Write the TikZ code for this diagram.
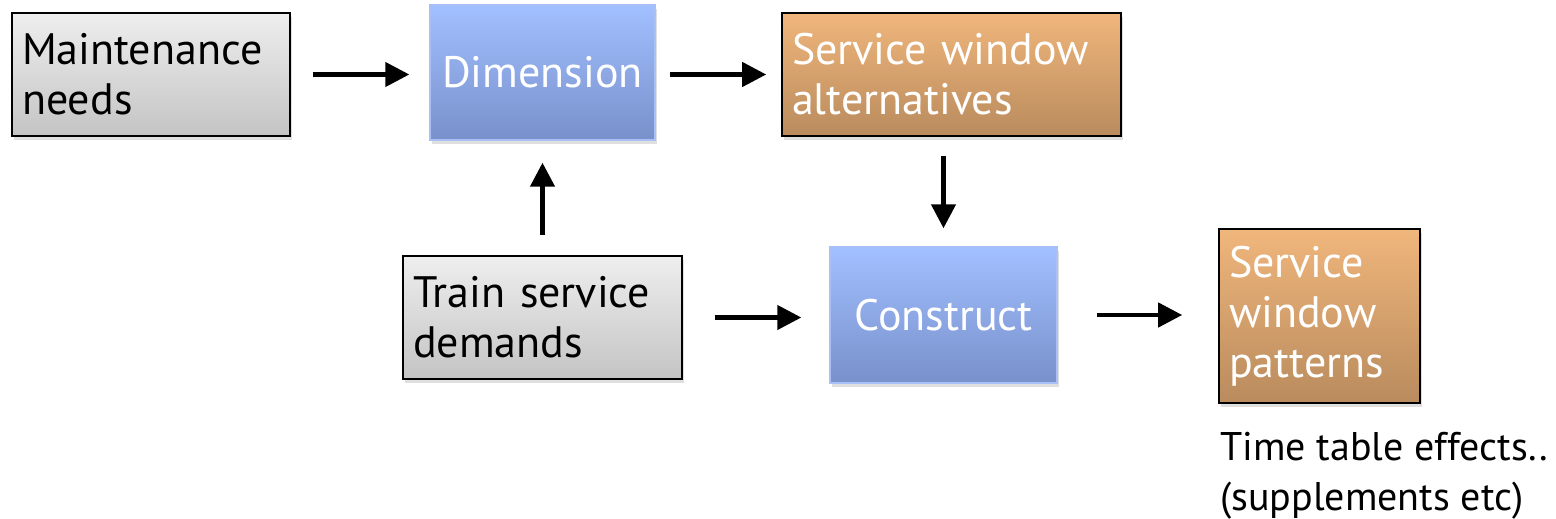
\documentclass[tikz,border=0pt]{standalone}
\usepackage{fontspec}
\setmainfont{PT Sans}
\usetikzlibrary{arrows.meta}
\usetikzlibrary{shadows}
\definecolor{greytop}{HTML}{EEEEEE}
\definecolor{greybot}{HTML}{C4C4C4}
\definecolor{bluetop}{HTML}{A2BFFF}
\definecolor{bluebot}{HTML}{7891CB}
\definecolor{blueline}{HTML}{A8C0F8}
\definecolor{orangetop}{HTML}{F0B67C}
\definecolor{orangebot}{HTML}{B98B5D}
\tikzset{
    boxshadow/.style = {drop shadow={opacity=0.25,shadow xshift=2pt,shadow yshift=-4pt}},
    inbox/.style = {rectangle, draw=black, line width=1.6pt, top color=greytop, bottom color=greybot, boxshadow,
                    inner xsep=10pt, inner ysep=0pt, align=left, font=\fontsize{44}{50}\selectfont},
    stepbox/.style = {rectangle, draw=blueline, line width=1.4pt, top color=bluetop, bottom color=bluebot, boxshadow,
                    inner sep=0pt, align=center, text=white, font=\fontsize{44}{50}\selectfont},
    outbox/.style = {rectangle, draw=black, line width=1.6pt, top color=orangetop, bottom color=orangebot, boxshadow,
                    inner xsep=10pt, inner ysep=0pt, align=left, text=white, font=\fontsize{44}{50}\selectfont},
    flow/.style = {line width=4.4pt, -{Triangle[length=24pt,width=24pt]}},
}

\begin{document}
\begin{tikzpicture}[x=1pt,y=-1pt]
\useasboundingbox (0,0) rectangle (1556,519);
\node[inbox, text width=258pt, minimum height=123pt] at (151, 74.5) (maint) {Maintenance\\needs};
\node[stepbox, minimum width=225pt, minimum height=135pt] at (542.5, 72.5) (dim) {Dimension};
\node[outbox, text width=319pt, minimum height=123pt] at (951.5, 74.5) (swalt) {Service window\\alternatives};
\node[inbox, text width=259pt, minimum height=123pt] at (542.5, 317.5) (train) {Train service\\demands};
\node[stepbox, minimum width=227pt, minimum height=136pt] at (943.5, 315) (cons) {Construct};
\node[outbox, text width=181pt, minimum height=174pt] at (1319.5, 316) (swpat) {Service\\window\\patterns};
\node[anchor=north west, align=left, inner sep=0pt, font=\fontsize{40}{50}\selectfont] at (1220, 432) (effects) {Time table effects..\\(supplements etc)};
%
\draw[flow, shorten <=22pt, shorten >=20pt] (maint.east) -- (maint.east -| dim.west);
\draw[flow, shorten <=14pt, shorten >=15pt] (swalt.west -| dim.east) -- (swalt.west);
\draw[flow, shorten <=19pt, shorten >=18pt] (cons.north |- swalt.south) -- (cons.north);
\draw[flow, shorten <=20pt, shorten >=22pt] (train.north) -- (dim.south);
\draw[flow, shorten <=32pt, shorten >=28pt] (train.east) -- (train.east -| cons.west);
\draw[flow, shorten <=39pt, shorten >=36pt] (cons.east) -- (cons.east -| swpat.west);

\end{tikzpicture}
\end{document}
